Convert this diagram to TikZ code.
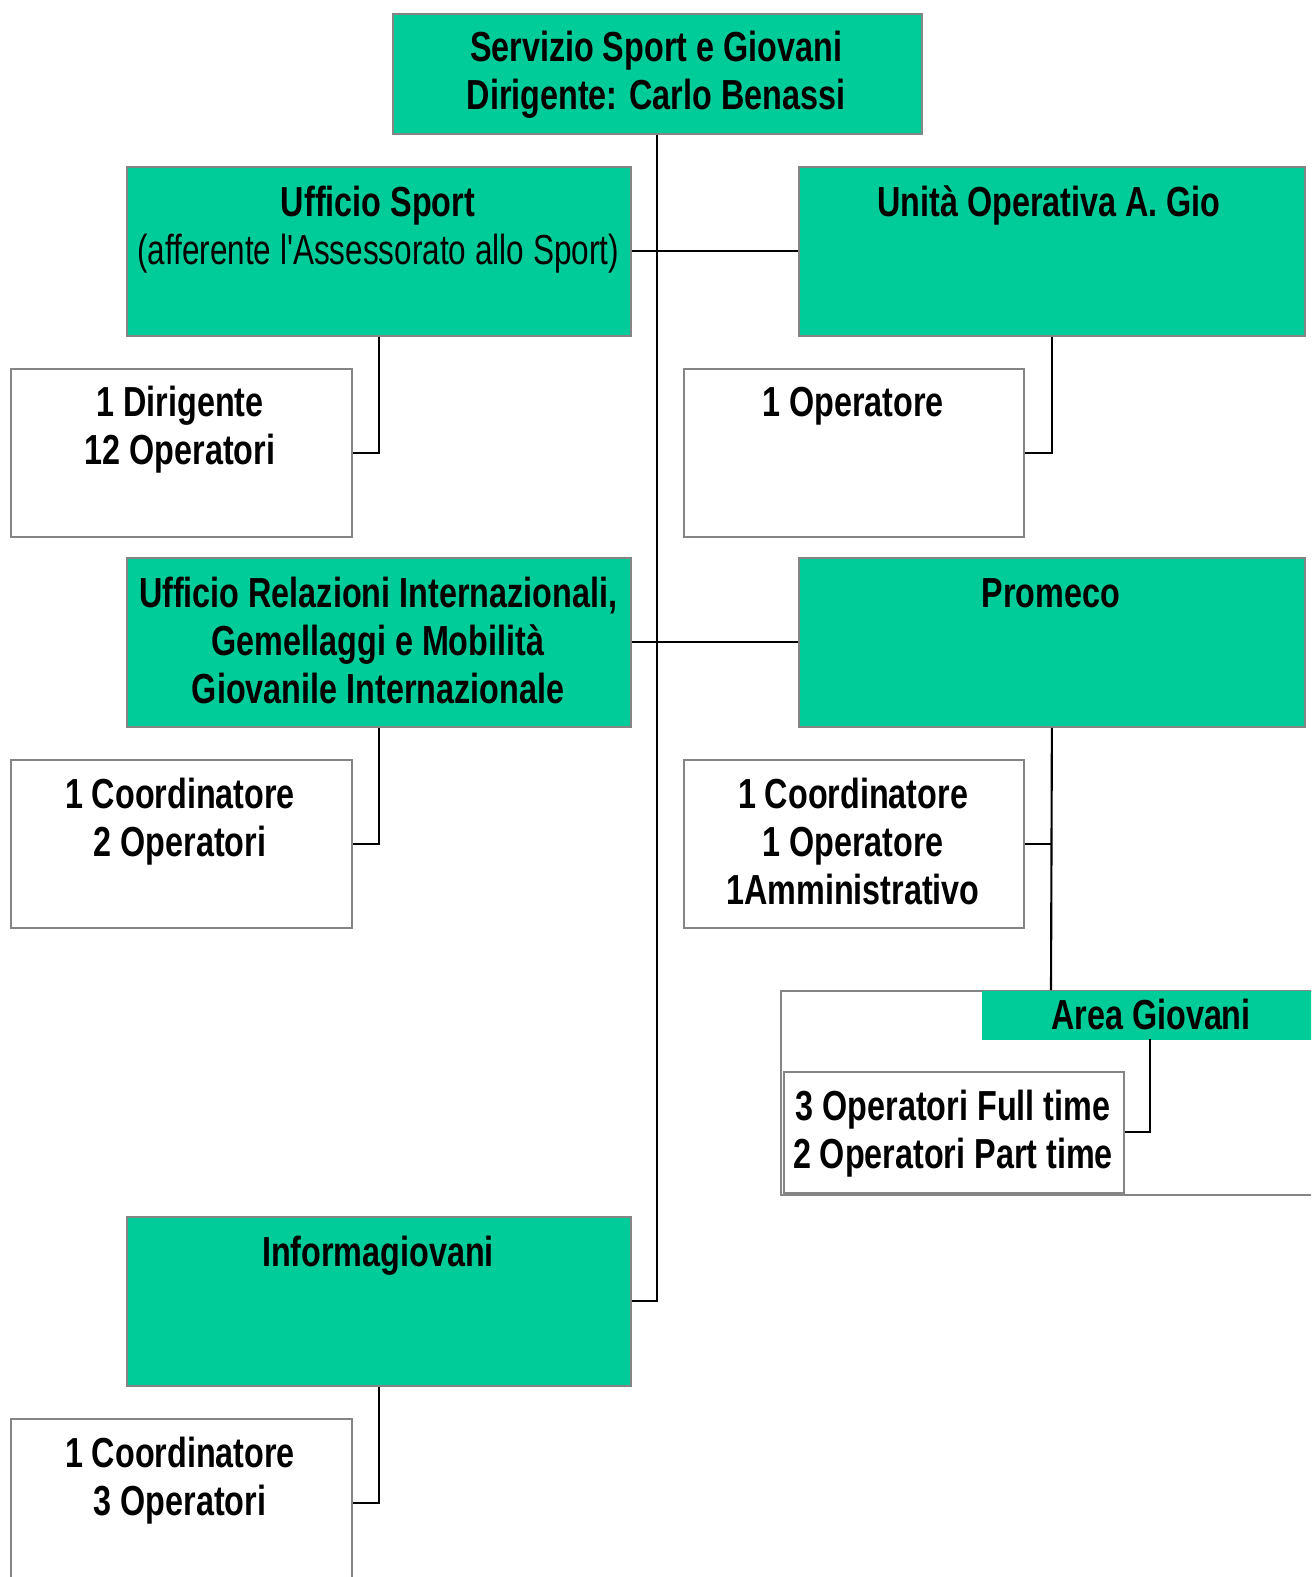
\documentclass[tikz,border=0pt]{standalone}
\usepackage{fontspec}
\setmainfont{Liberation Sans}[FakeStretch=0.75, BoldFeatures={FakeStretch=0.77}, Ligatures=TeXOff]
\definecolor{boxgreen}{HTML}{00CC99}
\definecolor{boxgray}{HTML}{858585}
\tikzset{
  gbox/.style={draw=boxgray, line width=0.7pt, fill=boxgreen, inner sep=0pt, anchor=north west},
  wbox/.style={draw=boxgray, line width=0.7pt, fill=white, inner sep=0pt, anchor=north west},
  txt/.style={inner sep=0pt, align=center, font=\fontsize{16.8}{19.2}\selectfont\bfseries},
  link/.style={draw=black, line width=0.85pt}
}
\begin{document}
\begin{tikzpicture}[x=0.4pt, y=-0.4pt]
\clip (0,0) rectangle (1311,1577);
\fill[white] (0,0) rectangle (1311,1577);
% boxes
\node[gbox, minimum width=211.6pt, minimum height=48pt] (top) at (392,13) {};
\node[gbox, minimum width=201.6pt, minimum height=67.6pt] (sport) at (126,166) {};
\node[gbox, minimum width=202.4pt, minimum height=67.6pt] (unita) at (798,166) {};
\node[wbox, minimum width=136.4pt, minimum height=67.2pt] (dir) at (10,368) {};
\node[wbox, minimum width=136pt, minimum height=67.2pt] (op) at (683,368) {};
\node[gbox, minimum width=201.6pt, minimum height=67.6pt] (rel) at (126,557) {};
\node[gbox, minimum width=202.4pt, minimum height=67.6pt] (promeco) at (798,557) {};
\node[wbox, minimum width=136.4pt, minimum height=67.2pt] (ctwo) at (10,759) {};
\node[wbox, minimum width=136pt, minimum height=67.2pt] (cone) at (683,759) {};
\node[wbox, minimum width=224pt, minimum height=81.6pt] (area) at (780,990) {};
\node[gbox, draw=none, minimum width=143.6pt, minimum height=19.6pt] (areag) at (981,990) {};
\node[wbox, minimum width=136pt, minimum height=48.4pt] (inner) at (783,1071) {};
\node[gbox, minimum width=201.6pt, minimum height=67.6pt] (info) at (126,1216) {};
\node[wbox, minimum width=136.4pt, minimum height=67.2pt] (cthree) at (10,1418) {};
% connectors
\coordinate (areatop) at (1051,990);
\coordinate (agdown) at (1150,1039);
\draw[link] (top.south) |- (info.east);
\draw[link] (sport.east) -- (unita.west);
\draw[link] (rel.east) -- (promeco.west);
\draw[link] (sport.south) |- (dir.east);
\draw[link] (rel.south) |- (ctwo.east);
\draw[link] (info.south) |- (cthree.east);
\draw[link] (unita.south) |- (op.east);
\draw[link] (promeco.south) -- (areatop);
\draw[link] (cone.east) -- (promeco.south |- cone.east);
\draw[link] (agdown) |- (inner.east);
% texts
\node[txt] (ttop) at (656,75) {Servizio Sport e Giovani\\Dirigente: Carlo Benassi};
\node[txt] (tsport) at (378,230) {Ufficio Sport\\{\mdseries (afferente l'Assessorato allo Sport)}};
\node[txt] (tunita) at (1049,205) {Unità Operativa A. Gio};
\node[txt] (tdir) at (180,430) {1 Dirigente\\12 Operatori};
\node[txt] (top1) at (853,406) {1 Operatore};
\node[txt] (trel) at (378,640) {Ufficio Relazioni Internazionali,\\Gemellaggi e Mobilità\\Giovanile Internazionale};
\node[txt] (tprom) at (1051,593) {Promeco};
\node[txt] (tctwo) at (180,822) {1 Coordinatore\\2 Operatori};
\node[txt] (tcone) at (853,841) {1 Coordinatore\\1 Operatore\\1Amministrativo};
\node[txt] (tarea) at (1151,1014) {Area Giovani};
\node[txt] (tinner) at (953,1134) {3 Operatori Full time\\2 Operatori Part time};
\node[txt] (tinfo) at (378,1256) {Informagiovani};
\node[txt] (tcthree) at (180,1481) {1 Coordinatore\\3 Operatori};
\end{tikzpicture}
\end{document}
